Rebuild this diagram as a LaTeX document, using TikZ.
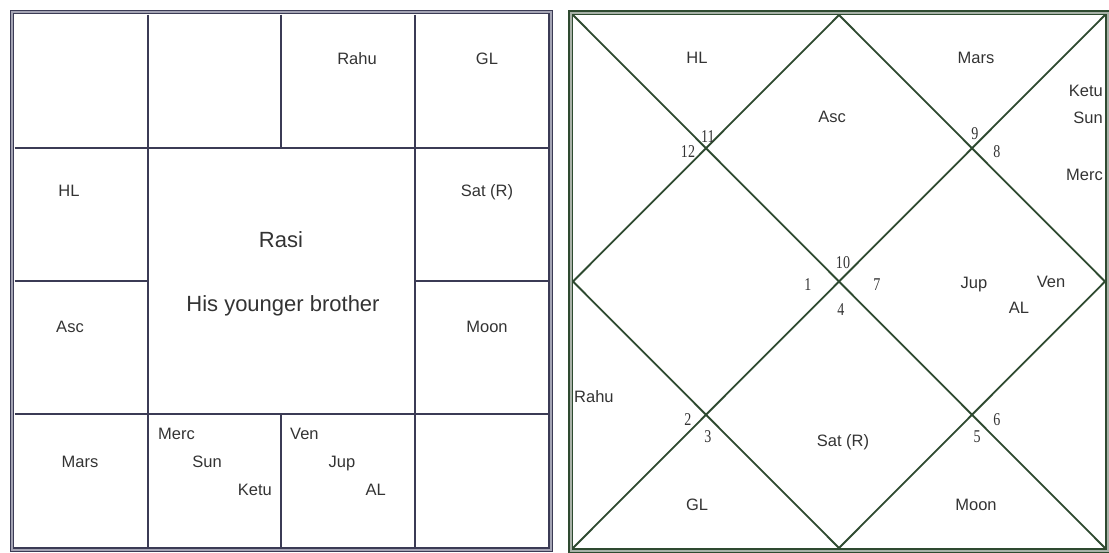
\documentclass[tikz,border=0pt]{standalone}
\usepackage{fontspec}
\setmainfont{Liberation Sans}
\newfontfamily\numfont[FakeStretch=0.78]{Liberation Serif}
\usepackage{xcolor}
\usepackage{tikz}
\usetikzlibrary{positioning, calc}
\definecolor{rasiline}{HTML}{3B3B55}
\definecolor{rasigap}{HTML}{A4A4B4}
\definecolor{chartline}{HTML}{2E4A30}
\definecolor{chartgap}{HTML}{A8B2A8}
\definecolor{labeltext}{HTML}{333333}

\begin{document}
\begin{tikzpicture}[x=1pt, y=-1pt,
    frameL/.style={draw=rasiline, line width=1.4pt, double=rasigap, double distance=2pt},
    gridL/.style={draw=rasiline, line width=2pt},
    frameR/.style={draw=chartline, line width=1.4pt, double=chartgap, double distance=2pt},
    gridR/.style={draw=chartline, line width=1.8pt},
    planet/.style={text=labeltext, font=\fontsize{16.5}{18}\selectfont, inner sep=0pt, anchor=base},
    title/.style={text=labeltext, font=\fontsize{22}{24}\selectfont, inner sep=0pt, anchor=base},
    house/.style={text=labeltext, font=\numfont\fontsize{18}{19}\selectfont, inner sep=0pt}
]
\useasboundingbox (0,0) rectangle (1109,552);

% Left: South Indian Rasi chart
\foreach \i/\x in {0/14.5,1/148,2/281.3,3/414.7,4/548}
  \coordinate (cx\i) at (\x,0);
\foreach \j/\y in {0/14.5,1/147.6,2/280.8,3/413.9,4/547}
  \coordinate (cy\j) at (0,\y);

\draw[gridL] (cx1|-cy0) -- (cx1|-cy4);
\draw[gridL] (cx3|-cy0) -- (cx3|-cy4);
\draw[gridL] (cx2|-cy0) -- (cx2|-cy1);
\draw[gridL] (cx2|-cy3) -- (cx2|-cy4);
\draw[gridL] (cx0|-cy1) -- (cx4|-cy1);
\draw[gridL] (cx0|-cy3) -- (cx4|-cy3);
\draw[gridL] (cx0|-cy2) -- (cx1|-cy2);
\draw[gridL] (cx3|-cy2) -- (cx4|-cy2);
\coordinate (rasiNW) at (12,12);
\coordinate (rasiSE) at (550.5,549.5);
\draw[frameL] (rasiNW) rectangle (rasiSE);

\node (rahuL) [planet] at (357,64) {Rahu};
\node (glL) [planet] at (487,64) {GL};
\node (hlL) [planet] at (69,196) {HL};
\node (satL) [planet] at (487,196) {Sat (R)};
\node (ascL) [planet] at (70,332) {Asc};
\node (moonL) [planet] at (487,332) {Moon};
\node (marsL) [planet] at (80,467) {Mars};
\node (mercL) [planet, anchor=base west] at (158,439) {Merc};
\node (sunL) [planet] at (207,467) {Sun};
\node (ketuL) [planet, anchor=base east] at (272,495) {Ketu};
\node (venL) [planet, anchor=base west] at (290,439) {Ven};
\node (jupL) [planet] at (342,467) {Jup};
\node (alL) [planet, anchor=base east] at (386,495) {AL};
\node (rasi) [title] at (281,247) {Rasi};
\node (whose) [title] at (283,311) {His younger brother};

% Right: North Indian chart
\coordinate (nw) at (573,15);
\coordinate (ne) at (1105,15);
\coordinate (sw) at (573,548);
\coordinate (se) at (1105,548);
\coordinate (n) at (839,15);
\coordinate (e) at (1105,281.5);
\coordinate (s) at (839,548);
\coordinate (w) at (573,281.5);
\draw[gridR] (nw) -- (se);
\draw[gridR] (ne) -- (sw);
\draw[gridR] (n) -- (e) -- (s) -- (w) -- cycle;
\coordinate (chartNW) at (570.5,12.5);
\coordinate (chartSE) at (1107.5,550.5);
\draw[frameR] (chartNW) rectangle (chartSE);

% house numbers
\node (h12) [house] at (688,152) {12};
\node (h11) [house] at (708,137) {11};
\node (h9) [house] at (975,134) {9};
\node (h8) [house] at (997,152) {8};
\node (h10) [house] at (843,263) {10};
\node (h1) [house] at (808,285) {1};
\node (h7) [house] at (877,285) {7};
\node (h4) [house] at (841,310) {4};
\node (h2) [house] at (688,420) {2};
\node (h3) [house] at (708,437) {3};
\node (h5) [house] at (977,437) {5};
\node (h6) [house] at (997,420) {6};

% planets
\node (hlR) [planet] at (697,63) {HL};
\node (marsR) [planet] at (976,63) {Mars};
\node (ascR) [planet] at (832,122) {Asc};
\node (ketuR) [planet, anchor=base east] at (1103,96) {Ketu};
\node (sunR) [planet, anchor=base east] at (1103,123) {Sun};
\node (mercR) [planet, anchor=base east] at (1103,180) {Merc};
\node (jupR) [planet] at (974,288) {Jup};
\node (venR) [planet] at (1051,287) {Ven};
\node (alR) [planet] at (1019,313) {AL};
\node (rahuR) [planet, anchor=base west] at (574,402) {Rahu};
\node (satR) [planet] at (843,446) {Sat (R)};
\node (glR) [planet] at (697,510) {GL};
\node (moonR) [planet] at (976,510) {Moon};

\end{tikzpicture}
\end{document}
